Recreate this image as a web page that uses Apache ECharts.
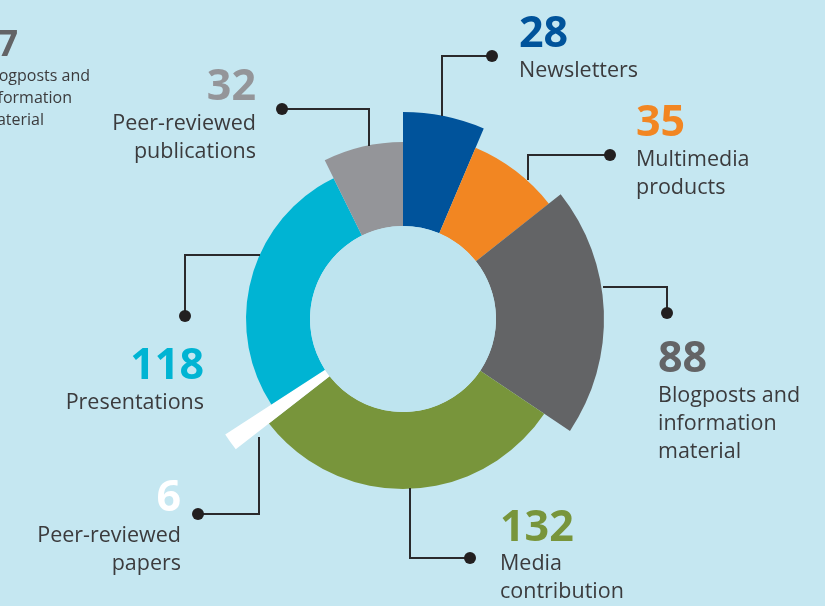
<!DOCTYPE html>
<html>
<head>
<meta charset="utf-8">
<script src="https://cdn.jsdelivr.net/npm/echarts@6/dist/echarts.min.js"></script>
<style>
  html, body { margin: 0; padding: 0; background: #ffffff; }
  #chart { width: 825px; height: 606px; }
</style>
</head>
<body>
<div id="chart"></div>
<script>
// data
const categories = ['Newsletters', 'Multimedia\nproducts', 'Blogposts and\ninformation\nmaterial', 'Media\ncontribution', 'Peer-reviewed\npapers', 'Presentations', 'Peer-reviewed\npublications'];
const values = [28, 35, 88, 132, 6, 118, 32];
// part of the neighbouring chart that is cut off at the left edge
const cutValue = '87';
const cutLines = ['Blogposts and', 'information', 'material'];

// look
const colors = ['#00539b', '#f28622', '#636466', '#78953b', '#ffffff', '#00b4d3', '#949599'];
const outerRadius = [207, 186, 201, 170, 212, 157, 177];
const innerRadius = 93;
const center = [403, 319];
const textColor = '#3b3b3d';
const lineColor = '#2a2a2c';

// leader line points (from slice edge to dot) and text anchors
const leaders = [
  [[442, 116], [442, 56], [492, 56]],
  [[528, 180], [528, 155], [610, 155]],
  [[603, 287], [667, 287], [667, 313]],
  [[410, 488], [410, 558], [470, 558]],
  [[259, 437], [259, 514], [198, 514]],
  [[260, 255], [185, 255], [185, 316]],
  [[369, 146], [369, 109], [282, 109]]
];
const numPos = [[519, 35, 'left'], [636, 124, 'left'], [658, 360, 'left'], [500, 529, 'left'], [181, 499, 'right'], [204, 367, 'right'], [256, 88, 'right']];
const namePos = [[519, 71, 'left'], [636, 160, 'left'], [658, 396, 'left'], [500, 564, 'left'], [181, 536, 'right'], [204, 403, 'right'], [256, 124, 'right']];

const chart = echarts.init(document.getElementById('chart'));

const series = values.map(function (v, i) {
  return {
    type: 'pie',
    center: center,
    radius: [innerRadius, outerRadius[i]],
    startAngle: 90,
    clockwise: true,
    silent: true,
    animation: false,
    label: { show: false },
    labelLine: { show: false },
    itemStyle: { borderWidth: 0 },
    data: values.map(function (w, j) {
      return {
        name: categories[j],
        value: w,
        itemStyle: { color: j === i ? colors[i] : 'rgba(0,0,0,0)' }
      };
    })
  };
});
// slightly darker hole in the middle
series.push({
  type: 'pie',
  center: center,
  radius: [0, innerRadius],
  silent: true,
  animation: false,
  label: { show: false },
  labelLine: { show: false },
  data: [{ value: 1, itemStyle: { color: '#bee4ef' } }]
});

const font = '"Open Sans", "Noto Sans", sans-serif';
const graphics = [];
values.forEach(function (v, i) {
  graphics.push({
    type: 'polyline',
    shape: { points: leaders[i] },
    style: { stroke: lineColor, lineWidth: 2, fill: null },
    z: 10
  });
  const end = leaders[i][leaders[i].length - 1];
  graphics.push({
    type: 'circle',
    shape: { cx: end[0], cy: end[1], r: 6 },
    style: { fill: '#221f20' },
    z: 10
  });
  graphics.push({
    type: 'text',
    x: numPos[i][0], y: numPos[i][1] - 22,
    style: {
      text: String(v), fill: colors[i], font: 'bold 43px ' + font,
      align: numPos[i][2], verticalAlign: 'top', lineHeight: 44
    },
    z: 10
  });
  graphics.push({
    type: 'text',
    x: namePos[i][0], y: namePos[i][1] - 14,
    style: {
      text: categories[i], fill: textColor, font: '21.5px ' + font,
      align: namePos[i][2], verticalAlign: 'top', lineHeight: 28
    },
    z: 10
  });
});
graphics.push({
  type: 'text', x: 18, y: 46 - 18,
  style: { text: cutValue, fill: '#636466', font: 'bold 36px ' + font, align: 'right', verticalAlign: 'top', lineHeight: 36 }
});
const cutEnds = [90, 72, 44];
cutLines.forEach(function (t, k) {
  graphics.push({
    type: 'text', x: cutEnds[k], y: 76 + k * 22 - 11,
    style: { text: t, fill: textColor, font: '16px ' + font, align: 'right', verticalAlign: 'top', lineHeight: 22 }
  });
});

chart.setOption({
  backgroundColor: '#c5e7f1',
  animation: false,
  series: series,
  graphic: graphics
});
</script>
</body>
</html>
